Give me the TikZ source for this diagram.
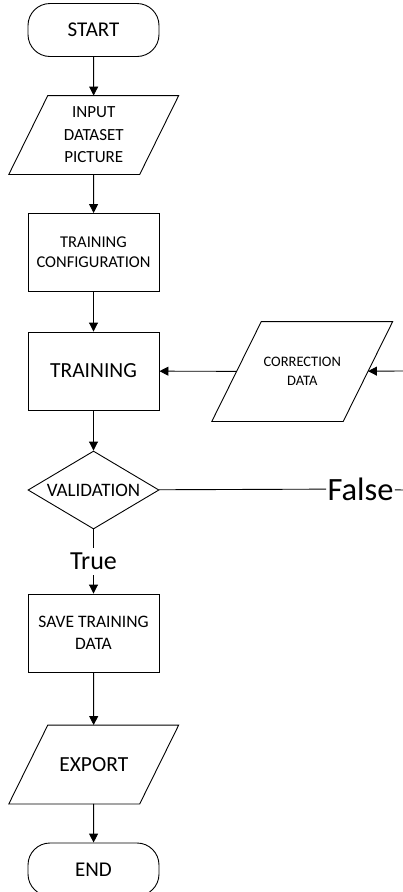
\documentclass[tikz,border=0pt]{standalone}
\usepackage{fontspec}
\setmainfont{Carlito}
\usetikzlibrary{shapes.geometric,arrows.meta}

\begin{document}
\begin{tikzpicture}[x=1pt, y=-1pt, line width=0.9pt,
  term/.style={draw, rectangle, rounded corners=22pt, minimum width=131pt, minimum height=53pt, font=\fontsize{21}{25}\selectfont},
  proc/.style={draw, rectangle, minimum width=131pt, minimum height=78pt, align=center},
  io/.style={rectangle, minimum width=130pt, minimum height=78pt, align=center,
    append after command={\pgfextra{\draw ([xshift=-#1]\tikzlastnode.south west) -- ([xshift=-#1]\tikzlastnode.south east)
      -- ([xshift=#1]\tikzlastnode.north east) -- ([xshift=#1]\tikzlastnode.north west) -- cycle;}}},
  io/.default=19.5pt,
  dec/.style={draw, diamond, aspect=1.68, minimum width=131pt, minimum height=78pt, inner sep=0pt},
  arr/.style={-{Triangle[length=9pt,width=9pt]}}]

\useasboundingbox (0,0) rectangle (403,892);

% main column
\node[term] (start) at (93.5,30) {START};
\node[io, font=\fontsize{17}{22.5}\selectfont] (inp) at (93.75,135) {INPUT\\DATASET\\PICTURE};
\node[proc, font=\fontsize{16.5}{20}\selectfont] (conf) at (93.5,252.5) {TRAINING\\CONFIGURATION};
\node[proc, font=\fontsize{21.5}{26}\selectfont] (train) at (93.5,371) {TRAINING};
\node[dec, font=\fontsize{19}{23}\selectfont] (val) at (93.5,490) {VALIDATION};
\node[proc, font=\fontsize{17.5}{22}\selectfont] (save) at (93.5,633) {SAVE TRAINING\\DATA};
\node[io, font=\fontsize{21.5}{26}\selectfont] (exp) at (93.75,764.5) {EXPORT};
\node[term] (end) at (93.5,869.5) {END};

% loop back
\node[io=24.75pt, minimum width=130.5pt, minimum height=99pt, font=\fontsize{14.5}{19.5}\selectfont] (corr) at (302.25,371.5) {CORRECTION\\DATA};
\node[fill=white, inner sep=1pt, font=\fontsize{32.5}{38}\selectfont] (fls) at (360.5,489) {False};
\coordinate (fend) at (403,490);
\coordinate (fin) at (403,371);

\draw[arr] (start) -- (inp);
\draw[arr] (inp) -- (conf);
\draw[arr] (conf) -- (train);
\draw[arr] (train) -- (val);
\draw[arr] (val) -- node[fill=white, inner xsep=1pt, inner ysep=5pt, font=\fontsize{26}{30}\selectfont] {True} (save);
\draw[arr] (save) -- (exp);
\draw[arr] (exp) -- (end);

\draw (val) -- (fls);
\draw (fls) -- (fend);
\draw[arr] (fin) -- (corr);
\draw[arr] (corr) -- (train);

\end{tikzpicture}
\end{document}
